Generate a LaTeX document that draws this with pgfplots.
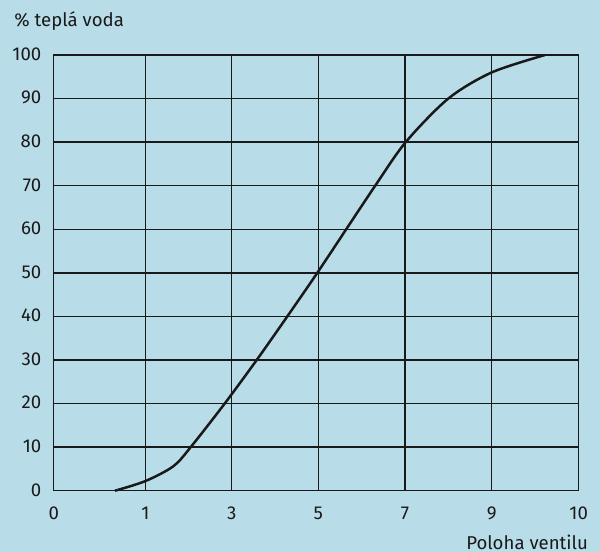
\documentclass[border=0pt]{standalone}
\usepackage{fontspec}
\setmainfont{Fira Sans}
\usepackage{pgfplots}
\pgfplotsset{compat=1.18}
\definecolor{bgblue}{RGB}{185,221,232}
\definecolor{ink}{RGB}{25,25,25}
\begin{document}
\fontsize{9.3bp}{11bp}\selectfont
\begin{tikzpicture}
\useasboundingbox (-26.85bp,-30.65bp) rectangle (273.15bp,245.35bp);
\fill[bgblue] (-26.85bp,-30.65bp) rectangle (273.15bp,245.35bp);
\begin{axis}[
  at={(0,0)}, anchor=south west,
  scale only axis, width=262.5bp, height=217.85bp,
  xmin=0, xmax=525, ymin=0, ymax=100,
  xtick={0,91.6,178,264.6,351.3,438,525},
  xticklabels={0,1,3,5,7,9,10},
  ytick={0,10,...,100},
  grid=major,
  major grid style={ink, line width=0.72bp},
  axis line style={ink, line width=0.72bp},
  major tick length=0pt,
  /pgf/number format/assume math mode=true,
  xticklabel style={anchor=base, inner sep=0pt, yshift=-14.3bp, font=\fontsize{9.3bp}{11bp}\selectfont, text=ink},
  yticklabel style={anchor=base east, inner sep=0pt, yshift=-2.65bp, xshift=-6bp, font=\fontsize{9.3bp}{11bp}\selectfont, text=ink},
  clip=false,
]
\addplot[ink, line width=1.25bp, smooth, tension=0.5] coordinates {
  (61.3,0) (91.6,2.2) (119.6,5.6) (137,10) (171,20) (203,30)
  (233.6,40) (263.6,50) (292.5,60) (321.5,70) (352,80) (394.6,90)
  (438,96) (491.3,100)
};
\node[anchor=west, inner sep=0pt, text=ink] at (axis cs:0,0) [xshift=-19.85bp, yshift=234.85bp] {\% teplá voda};
\node[anchor=east, inner sep=0pt, text=ink] at (axis cs:0,0) [xshift=267.3bp, yshift=-25.8bp] {Poloha ventilu};
\end{axis}
\end{tikzpicture}
\end{document}
